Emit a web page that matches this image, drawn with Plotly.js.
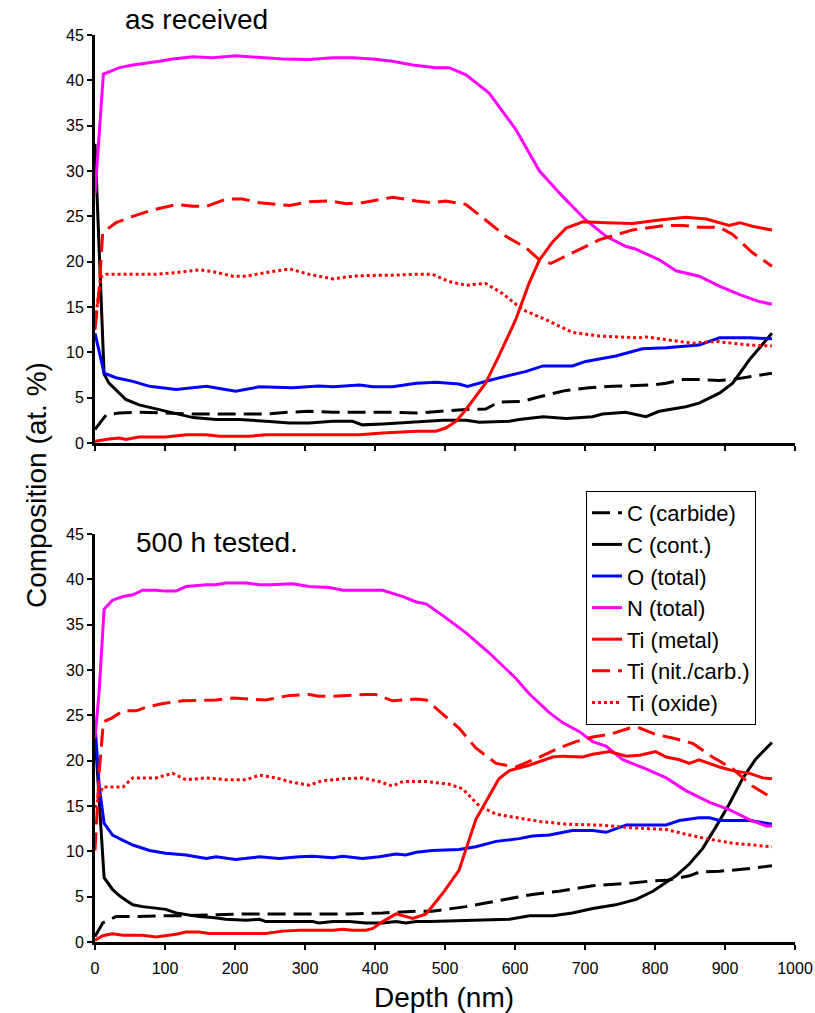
<!DOCTYPE html>
<html>
<head>
<meta charset="utf-8">
<script src="https://cdn.plot.ly/plotly-3.0.1.min.js"></script>
<style>html,body{margin:0;padding:0;background:#fff;}#chart{width:815px;height:1013px;}</style>
</head>
<body>
<div id="chart"></div>
<script>
// ---------- series names ----------
var seriesNames = ["C (carbide)", "C (cont.)", "O (total)", "N (total)", "Ti (metal)", "Ti (nit./carb.)", "Ti (oxide)"];
var panelTitles = ["as received", "500 h tested."];
var xTitle = "Depth (nm)";
var yTitle = "Composition (at. %)";

// ---------- top panel: as received ----------
var T_Ccarb_x = [0,16,35,63,101,140,197,244,278,306,340,387,425,459,497,530,558,577,611,635,673,706,739,796,816,840,863,892,911,935,967];
var T_Ccarb_y = [1.5,3.1,3.3,3.4,3.3,3.2,3.2,3.2,3.4,3.5,3.4,3.4,3.4,3.3,3.5,3.7,3.75,4.5,4.6,5.1,5.8,6.1,6.25,6.4,6.6,7.0,7.0,6.9,7.0,7.3,7.7];

var T_Ccont_x = [0,13,20,35,44,63,92,111,140,173,206,244,278,306,340,368,382,411,459,497,530,549,592,606,640,673,711,725,758,787,806,844,863,892,911,935,967];
var T_Ccont_y = [33,7.6,6.6,5.5,4.8,4.2,3.7,3.3,2.8,2.6,2.6,2.4,2.2,2.2,2.4,2.4,2.0,2.1,2.3,2.5,2.5,2.3,2.4,2.6,2.9,2.7,2.9,3.2,3.4,2.9,3.5,4.0,4.4,5.5,6.6,9.2,12.1];

var T_O_x = [0,13,30,54,78,116,159,201,235,282,320,340,378,397,425,459,487,520,532,568,616,640,682,701,744,782,816,849,863,892,935,967];
var T_O_y = [12.1,7.7,7.2,6.8,6.25,5.9,6.25,5.7,6.2,6.1,6.3,6.2,6.4,6.2,6.2,6.6,6.7,6.5,6.25,7.0,7.9,8.5,8.5,9.0,9.6,10.4,10.5,10.7,10.8,11.6,11.6,11.5];

var T_N_x = [0,12,35,54,92,111,140,168,201,235,268,306,340,368,397,425,454,487,506,530,563,601,635,668,701,730,758,772,792,806,830,863,892,920,949,967];
var T_N_y = [27.5,40.7,41.4,41.7,42.1,42.35,42.6,42.5,42.7,42.5,42.35,42.3,42.5,42.5,42.35,42.1,41.7,41.4,41.4,40.6,38.6,34.6,30.0,27.2,24.6,22.8,21.7,21.4,20.7,20.2,19.0,18.4,17.3,16.4,15.6,15.3];

var T_TiMet_x = [0,20,35,44,63,101,130,159,178,220,244,340,378,411,459,487,501,516,530,558,577,601,620,635,654,673,697,730,768,806,844,873,906,921,939,967];
var T_TiMet_y = [0.2,0.45,0.55,0.4,0.65,0.65,0.9,0.9,0.75,0.75,0.9,0.9,0.9,1.1,1.3,1.3,1.65,2.4,3.7,6.6,9.6,13.6,17.6,20.2,22.2,23.7,24.4,24.3,24.2,24.6,24.9,24.7,24.0,24.3,23.9,23.5];

var T_TiNit_x = [0,6,11,30,54,82,116,140,159,187,211,235,278,306,335,359,382,425,459,482,501,530,558,587,616,635,651,682,720,768,816,840,863,892,911,939,967];
var T_TiNit_y = [12.5,17,23.2,24.3,25.0,25.7,26.3,26.1,26.1,26.9,26.9,26.5,26.2,26.6,26.7,26.4,26.5,27.1,26.7,26.5,26.7,26.3,24.6,22.8,21.5,20.2,19.8,21.0,22.4,23.5,24.0,24.0,23.8,23.8,23.0,21.0,19.5];

var T_TiOx_x = [0,8,16,54,87,116,149,168,197,216,244,278,306,340,368,401,425,454,482,506,530,558,582,611,644,682,720,777,787,835,854,887,935,967];
var T_TiOx_y = [13,18.3,18.6,18.6,18.6,18.8,19.1,18.9,18.4,18.4,18.8,19.2,18.6,18.1,18.4,18.5,18.5,18.6,18.6,17.8,17.4,17.6,16.5,14.7,13.6,12.2,11.8,11.6,11.7,11.2,11.0,11.2,10.8,10.7];

// ---------- bottom panel: 500 h tested ----------
var B_Ccarb_x = [0,11,30,54,101,125,173,220,268,316,363,411,459,482,530,558,592,625,663,711,759,797,816,849,863,892,935,967];
var B_Ccarb_y = [0.6,2.1,2.8,2.8,2.9,2.9,3.0,3.1,3.1,3.1,3.1,3.2,3.4,3.4,3.9,4.3,4.8,5.25,5.6,6.2,6.45,6.75,6.8,7.3,7.7,7.8,8.1,8.4];

var B_Ccont_x = [0,13,25,35,44,54,68,87,101,116,130,149,168,187,216,235,244,282,311,320,340,363,387,411,430,444,459,478,530,592,621,654,682,711,744,773,797,816,830,849,868,887,906,925,944,967];
var B_Ccont_y = [23,7.1,5.8,5.1,4.6,4.1,3.9,3.7,3.6,3.2,3.0,2.8,2.7,2.5,2.4,2.5,2.25,2.25,2.25,2.1,2.25,2.25,2.1,2.1,2.25,2.1,2.25,2.25,2.4,2.5,2.9,2.9,3.2,3.7,4.1,4.7,5.6,6.6,7.3,8.6,10.3,12.7,15.2,18.0,20.2,22.0];

var B_O_x = [0,6,13,25,40,54,78,101,130,159,173,201,235,263,292,311,340,354,382,406,430,444,459,482,520,544,573,606,625,649,682,711,730,759,816,835,863,878,892,935,967];
var B_O_y = [24.0,17.2,13.1,11.8,11.2,10.7,10.1,9.8,9.6,9.2,9.4,9.1,9.4,9.2,9.4,9.45,9.3,9.45,9.2,9.4,9.7,9.6,9.9,10.1,10.2,10.5,11.1,11.4,11.7,11.8,12.3,12.3,12.1,12.9,12.9,13.4,13.7,13.7,13.4,13.4,13.0];

var B_N_x = [0,6,13,25,40,54,68,87,101,116,130,159,173,187,216,235,249,268,282,306,335,354,411,440,459,473,497,530,563,601,620,649,668,692,711,730,754,787,816,844,878,906,935,959,967];
var B_N_y = [22.5,27.7,36.7,37.7,38.1,38.3,38.8,38.8,38.7,38.7,39.2,39.4,39.4,39.6,39.6,39.4,39.4,39.5,39.5,39.2,39.1,38.8,38.8,38.1,37.5,37.3,36.0,34.1,31.9,29.1,27.4,25.3,24.2,23.2,22.1,21.6,20.1,19.1,18.1,16.7,15.4,14.6,13.5,12.8,12.8];

var B_TiMet_x = [0,11,25,40,68,87,116,130,149,163,244,268,292,340,354,368,387,397,411,430,454,473,497,520,544,558,577,592,620,654,668,697,711,735,759,778,801,816,835,849,863,892,911,935,954,967];
var B_TiMet_y = [0.2,0.7,0.9,0.75,0.75,0.55,0.85,1.1,1.1,0.95,0.95,1.2,1.3,1.3,1.4,1.3,1.3,1.5,2.25,3.1,2.6,3.1,5.4,7.9,13.5,15.4,18.0,18.9,19.5,20.4,20.5,20.4,20.7,21.0,20.5,20.6,21.0,20.4,20.1,19.7,20.1,19.3,18.9,18.6,18.1,18.0];

var B_TiNit_x = [0,6,12,24,40,59,73,97,125,173,197,244,278,306,320,340,387,401,425,459,473,497,520,544,573,601,635,663,687,711,735,764,778,801,825,854,882,911,939,967];
var B_TiNit_y = [10.1,18.7,24.3,24.7,25.5,25.5,25.9,26.3,26.6,26.7,26.9,26.7,27.2,27.3,27.1,27.1,27.3,27.3,26.6,26.8,26.7,25.1,23.6,21.4,19.7,19.3,20.4,21.4,22.1,22.6,22.9,23.6,23.6,22.9,22.5,21.9,20.4,19.1,17.2,15.9];

var B_TiOx_x = [0,11,40,54,87,111,130,159,187,216,235,259,282,306,325,354,382,406,425,440,473,506,525,549,573,606,635,673,720,768,816,849,873,911,967];
var B_TiOx_y = [14.8,17.1,17.1,18.1,18.1,18.6,17.9,18.1,17.9,17.9,18.4,18.1,17.6,17.3,17.8,18.0,18.1,17.7,17.2,17.7,17.7,17.4,16.9,15.0,14.1,13.7,13.3,13.0,12.9,12.6,12.4,11.8,11.4,10.9,10.5];

// ---------- tick values ----------
var xTicks = [0,100,200,300,400,500,600,700,800,900,1000];
var yTicks = [0,5,10,15,20,25,30,35,40,45];

// ---------- styles ----------
var styles = [
  {color:"#000000", dash:"18px,8px", width:3},
  {color:"#000000", dash:"solid", width:3},
  {color:"#0000FF", dash:"solid", width:3},
  {color:"#FF00FF", dash:"solid", width:3},
  {color:"#FF0000", dash:"solid", width:3},
  {color:"#FF0000", dash:"18px,8px", width:3},
  {color:"#FF0000", dash:"3px,3px", width:3}
];

var topData = [[T_Ccarb_x,T_Ccarb_y],[T_Ccont_x,T_Ccont_y],[T_O_x,T_O_y],[T_N_x,T_N_y],[T_TiMet_x,T_TiMet_y],[T_TiNit_x,T_TiNit_y],[T_TiOx_x,T_TiOx_y]];
var botData = [[B_Ccarb_x,B_Ccarb_y],[B_Ccont_x,B_Ccont_y],[B_O_x,B_O_y],[B_N_x,B_N_y],[B_TiMet_x,B_TiMet_y],[B_TiNit_x,B_TiNit_y],[B_TiOx_x,B_TiOx_y]];

var traces = [];
function addTraces(data, xa, ya, showLegend) {
  for (var i = 0; i < data.length; i++) {
    traces.push({
      type: "scatter", mode: "lines",
      x: data[i][0], y: data[i][1],
      xaxis: xa, yaxis: ya,
      name: seriesNames[i],
      legendgroup: seriesNames[i],
      showlegend: showLegend,
      line: {color: styles[i].color, dash: styles[i].dash, width: styles[i].width, shape: "linear"},
      hoverinfo: "skip"
    });
  }
}
addTraces(topData, "x", "y", false);
addTraces(botData, "x2", "y2", true);

var FONT = "Liberation Sans, Arial, Helvetica, sans-serif";
var W = 815, H = 1013;
var xL = 95, xR = 795;
function px(v){ return v / W; }
function py(v){ return (H - v) / H; }

function xAxis(showLabels, anchor) {
  return {
    domain: [px(xL), px(xR)], range: [0, 1000], anchor: anchor,
    tickmode: "array", tickvals: xTicks, ticktext: xTicks.map(String),
    showticklabels: showLabels, ticklabelstandoff: 5,
    ticks: "outside", ticklen: 5, tickwidth: 2, tickcolor: "#000",
    showline: true, linecolor: "#000", linewidth: 3,
    showgrid: false, zeroline: false,
    tickfont: {family: FONT, size: 16, color: "#000"}
  };
}
function yAxis(top, bottom, anchor) {
  return {
    domain: [py(bottom), py(top)], range: [0, 45], anchor: anchor,
    tickmode: "array", tickvals: yTicks, ticktext: yTicks.map(String),
    ticks: "outside", ticklen: 5, tickwidth: 2, tickcolor: "#000",
    showline: true, linecolor: "#000", linewidth: 3,
    showgrid: false, zeroline: false,
    tickfont: {family: FONT, size: 16, color: "#000"}
  };
}

var layout = {
  width: W, height: H,
  margin: {l:0, r:0, t:0, b:0, pad:0},
  paper_bgcolor: "#fff", plot_bgcolor: "rgba(0,0,0,0)",
  font: {family: FONT, color: "#000"},
  xaxis: xAxis(false, "y"),
  yaxis: yAxis(35, 443, "x"),
  xaxis2: xAxis(true, "y2"),
  yaxis2: yAxis(534, 942, "x2"),
  showlegend: true,
  legend: {
    x: px(586), y: py(491), xanchor: "left", yanchor: "top",
    bgcolor: "#fff", bordercolor: "#000", borderwidth: 1,
    font: {family: FONT, size: 22, color: "#000"},
    tracegroupgap: 0, itemwidth: 30
  },
  annotations: [
    {text: panelTitles[0], xref:"paper", yref:"paper", x: px(196), y: py(20), xanchor:"center", yanchor:"middle", showarrow:false, font:{family:FONT, size:28, color:"#000"}},
    {text: panelTitles[1], xref:"paper", yref:"paper", x: px(217), y: py(542), xanchor:"center", yanchor:"middle", showarrow:false, font:{family:FONT, size:28, color:"#000"}},
    {text: yTitle, xref:"paper", yref:"paper", x: px(36), y: py(485), xanchor:"center", yanchor:"middle", textangle:-90, showarrow:false, font:{family:FONT, size:28, color:"#000"}},
    {text: xTitle, xref:"paper", yref:"paper", x: px(444), y: py(997), xanchor:"center", yanchor:"middle", showarrow:false, font:{family:FONT, size:28, color:"#000"}}
  ]
};

Plotly.newPlot("chart", traces, layout, {staticPlot: true, displayModeBar: false});
</script>
</body>
</html>
